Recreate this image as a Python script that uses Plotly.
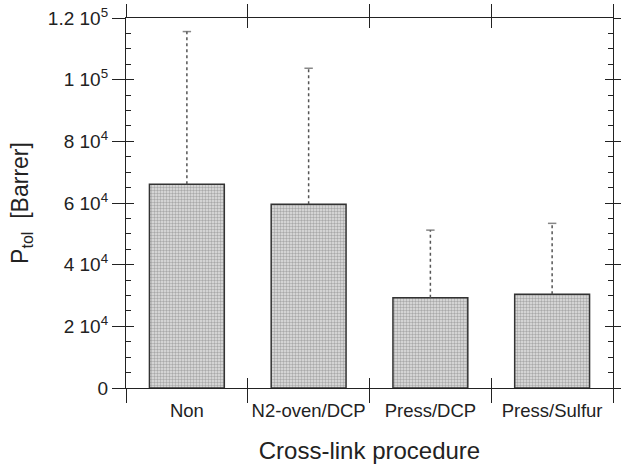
import plotly.graph_objects as go

categories = ["Non", "N2-oven/DCP", "Press/DCP", "Press/Sulfur"]
p_tol = [66100, 59600, 29300, 30400]
p_tol_err = [49500, 44100, 21900, 23000]

y_tickvals = [0, 20000, 40000, 60000, 80000, 100000, 120000]
y_ticktext = ["0", "2 10<sup>4</sup>", "4 10<sup>4</sup>", "6 10<sup>4</sup>",
              "8 10<sup>4</sup>", "1 10<sup>5</sup>", "1.2 10<sup>5</sup>"]
x_bounds = [-0.5, 0.5, 1.5, 2.5, 3.5]

FONT = "Liberation Sans, Arial, Helvetica, sans-serif"
INK = "#222"

fig = go.Figure()
fig.add_trace(go.Bar(
    x=categories, y=p_tol,
    marker=dict(color="#c0c0c0",
                line=dict(color="#333", width=1.5),
                pattern=dict(shape=".", fgcolor="#707070", bgcolor="#e2e2e2",
                             size=3, solidity=0.5, fillmode="overlay")),
    showlegend=False,
))
for c, v, e in zip(categories, p_tol, p_tol_err):
    fig.add_trace(go.Scatter(
        x=[c, c], y=[v, v + e], mode="lines+markers",
        line=dict(color="#555", width=1.5, dash="dot"),
        marker=dict(symbol="line-ew", size=[0, 6], color="#555",
                    line=dict(color="#555", width=1.5)),
        showlegend=False, hoverinfo="skip",
    ))

# invisible anchor traces so that the overlay tick axes are drawn
for xa, ya in [("x2", "y"), ("x3", "y"), ("x4", "y"), ("x", "y2"), ("x", "y3"), ("x", "y4")]:
    fig.add_trace(go.Scatter(
        x=[0 if xa != "x" else categories[0]], y=[0], xaxis=xa, yaxis=ya,
        mode="markers", marker=dict(size=1, opacity=0),
        showlegend=False, hoverinfo="skip",
    ))

yrange = [0, 120000]
xr = [-0.5, 3.5]
common = dict(automargin=False, showgrid=False, zeroline=False, tickcolor=INK, tickwidth=1.3)
fig.update_layout(
    width=621, height=470,
    margin=dict(l=126, r=8, t=18, b=82),
    paper_bgcolor="white", plot_bgcolor="white",
    font=dict(family=FONT, color=INK, size=18),
    bargap=0.385,
    xaxis=dict(type="category", range=xr, tickson="boundaries", tickangle=0,
               ticks="outside", ticklen=14, ticklabelstandoff=6,
               showline=True, linecolor=INK, linewidth=1.3,
               tickfont=dict(size=18.5),
               title=dict(text="Cross-link procedure", font=dict(size=24), standoff=21),
               **common),
    xaxis2=dict(overlaying="x", anchor="y", side="bottom", range=xr,
                tickvals=x_bounds, ticks="inside", ticklen=10,
                showticklabels=False, **common),
    xaxis3=dict(overlaying="x", anchor="y", side="top", range=xr,
                tickvals=x_bounds, ticks="outside", ticklen=13,
                showticklabels=False,
                showline=True, linecolor=INK, linewidth=1.3, **common),
    xaxis4=dict(overlaying="x", anchor="y", side="top", range=xr,
                tickvals=x_bounds, ticks="inside", ticklen=10,
                showticklabels=False, **common),
    yaxis=dict(range=yrange, tickvals=y_tickvals, ticktext=y_ticktext,
               ticks="outside", ticklen=13,
               showline=True, linecolor=INK, linewidth=1.3,
               tickfont=dict(size=19),
               title=dict(text="P<sub>tol</sub>  [Barrer]",
                          font=dict(size=23), standoff=12),
               **common),
    yaxis2=dict(overlaying="y", anchor="x", side="left", range=yrange,
                tickvals=y_tickvals, ticks="inside", ticklen=8,
                showticklabels=False,
                minor=dict(dtick=5000, tick0=0, ticks="inside", ticklen=5,
                           tickwidth=1.1, tickcolor=INK, showgrid=False),
                **common),
    yaxis3=dict(overlaying="y", anchor="x", side="right", range=yrange,
                tickvals=y_tickvals, ticks="inside", ticklen=8,
                showticklabels=False,
                showline=True, linecolor=INK, linewidth=1.3,
                minor=dict(dtick=5000, tick0=0, ticks="inside", ticklen=5,
                           tickwidth=1.1, tickcolor=INK, showgrid=False),
                **common),
    yaxis4=dict(overlaying="y", anchor="x", side="right", range=yrange,
                tickvals=y_tickvals, ticks="outside", ticklen=8,
                showticklabels=False, **common),
)

fig.write_html("out.html")
